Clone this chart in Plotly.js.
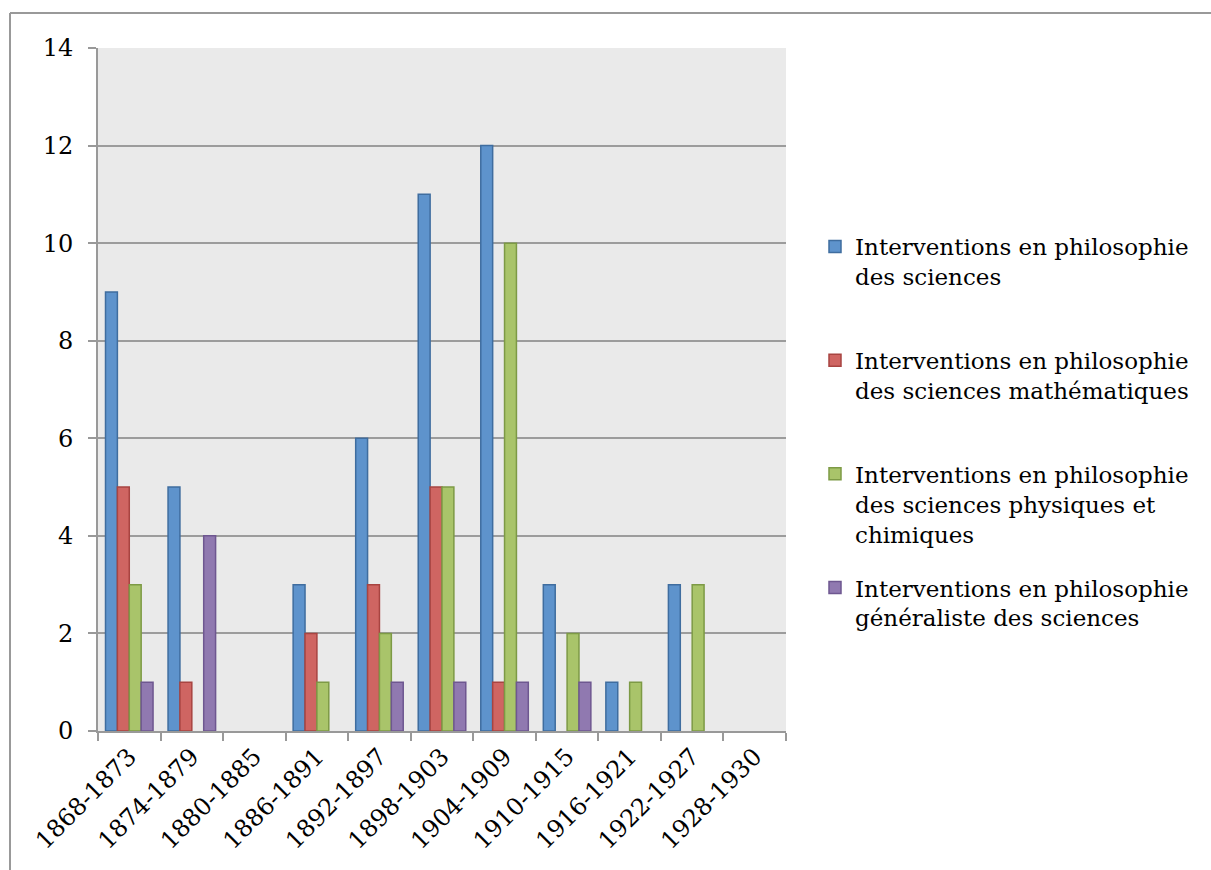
<!DOCTYPE html>
<html>
<head>
<meta charset="utf-8">
<script src="https://cdn.plot.ly/plotly-3.0.1.min.js"></script>
<style>
html,body{margin:0;padding:0;background:#fff;}
#chart{width:1211px;height:870px;}
</style>
</head>
<body>
<div id="chart"></div>
<script>
const periods = ["1868-1873","1874-1879","1880-1885","1886-1891","1892-1897","1898-1903","1904-1909","1910-1915","1916-1921","1922-1927","1928-1930"];
const sciences     = [9, 5, 0, 3, 6, 11, 12, 3, 1, 3, 0];
const mathematiques = [5, 1, 0, 2, 3, 5, 1, 0, 0, 0, 0];
const physiques    = [3, 0, 0, 1, 2, 5, 10, 2, 1, 3, 0];
const generaliste  = [1, 4, 0, 0, 1, 1, 1, 1, 0, 0, 0];
const seriesNames = [
  "Interventions en philosophie<br>des sciences<br>\u00A0",
  "Interventions en philosophie<br>des sciences mathématiques<br>\u00A0",
  "Interventions en philosophie<br>des sciences physiques et<br>chimiques",
  "Interventions en philosophie<br>généraliste des sciences<br>\u00A0"
];
const yTicks = [0, 2, 4, 6, 8, 10, 12, 14];

const fills = ["#5E93CC", "#CF6562", "#A9C46A", "#9079B0"];
const lines = ["#3F6D9F", "#A84441", "#7D9A45", "#6E5790"];
const values = [sciences, mathematiques, physiques, generaliste];

// zero values are not drawn in the reference (no outline on the axis)
const traces = values.map((v, i) => ({
  type: "bar",
  x: periods,
  y: v.map(d => (d === 0 ? null : d)),
  name: seriesNames[i],
  legendgroup: "g" + i,
  marker: {color: fills[i], line: {color: lines[i], width: 1.5}},
  hoverinfo: "x+y"
}));

const W = 1211, H = 870, L = 98, R = 786, T = 48, B = 731;
const px = p => (p - L) / (R - L);
const py = q => (B - q) / (B - T);

const layout = {
  width: W, height: H,
  margin: {l: L, r: W - R, t: T, b: H - B, pad: 0},
  paper_bgcolor: "#ffffff",
  plot_bgcolor: "#EAEAEA",
  font: {family: "DejaVu Serif, serif", size: 23, color: "#000"},
  barmode: "group",
  bargap: 0.24,
  bargroupgap: 0,
  showlegend: true,
  legend: {
    x: px(815), xanchor: "left",
    y: py(225), yanchor: "top",
    valign: "top",
    tracegroupgap: 21,
    font: {family: "DejaVu Serif, serif", size: 23, color: "#000"},
    bgcolor: "rgba(0,0,0,0)"
  },
  xaxis: {
    type: "category",
    tickangle: -45,
    ticks: "outside",
    tickson: "boundaries",
    ticklen: 8,
    tickwidth: 2,
    tickcolor: "#999",
    showline: true,
    linecolor: "#999",
    linewidth: 2,
    showgrid: false,
    tickfont: {family: "DejaVu Serif, serif", size: 24, color: "#000"},
    fixedrange: true
  },
  yaxis: {
    range: [0, 14],
    tickvals: yTicks,
    ticktext: yTicks.map(String),
    ticks: "outside",
    ticklen: 8,
    tickwidth: 2,
    tickcolor: "#999",
    showline: true,
    linecolor: "#999",
    linewidth: 2,
    showgrid: true,
    gridcolor: "#9C9C9C",
    gridwidth: 2,
    zeroline: false,
    ticklabelstandoff: 10,
    tickfont: {family: "DejaVu Serif, serif", size: 24, color: "#000"},
    fixedrange: true
  },
  shapes: [
    {type: "line", xref: "paper", yref: "paper", x0: px(10), x1: px(10), y0: py(13), y1: py(900), line: {color: "#999", width: 2}},
    {type: "line", xref: "paper", yref: "paper", x0: px(10), x1: px(1220), y0: py(13), y1: py(13), line: {color: "#999", width: 2}}
  ]
};

Plotly.newPlot("chart", traces, layout, {displayModeBar: false, staticPlot: true});
</script>
</body>
</html>
